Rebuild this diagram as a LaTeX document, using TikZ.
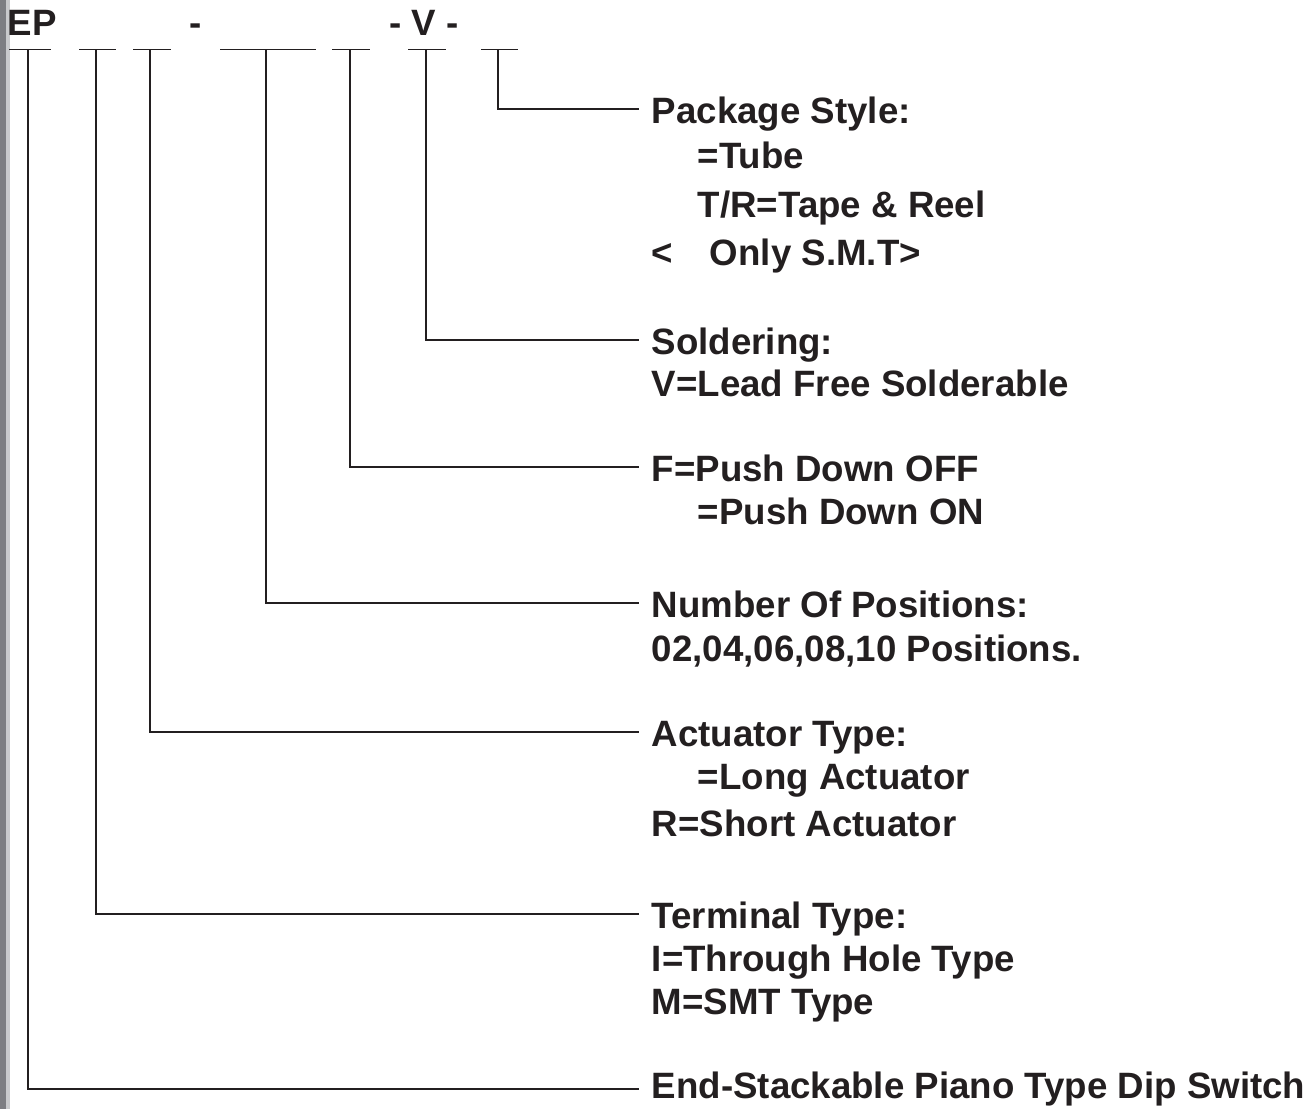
\documentclass[tikz,border=0pt]{standalone}
\usepackage{fontspec}
\setmainfont{Liberation Sans}
\usetikzlibrary{positioning}
\definecolor{ink}{HTML}{231F20}
\definecolor{bardark}{HTML}{7D7E82}
\definecolor{barlight}{HTML}{C9CACC}
\begin{document}
\begin{tikzpicture}[x=0.75pt,y=-0.75pt,line width=1.3pt,ink,
    lbl/.style={anchor=base west,inner sep=0pt,text=ink,font=\fontsize{27.5}{33}\selectfont\bfseries}]
\useasboundingbox (0,0) rectangle (1314,1109);
\fill[bardark] (0,0) rectangle (6,1109);
\fill[barlight] (6,0) rectangle (10,1109);
% part number
\node[lbl] (ep) at (7,36) {EP};
\node[lbl,anchor=base] (dash) at (196,36) {-};
\node[lbl,anchor=base] (dashv) at (424,36) {- V -};
\foreach \l/\r/\m/\n in {9/51/28/1,79/116/96/2,133/171/150/3,220/316/266/4,332/370/350/5,408/446/426/6,481/518/498/7}
  {\draw (\l,49.5) -- (\r,49.5);
   \coordinate (t\n) at (\m,49.5);}
% leaders
\foreach \n/\y in {7/109,6/340,5/467,4/603,3/732,2/914,1/1089}
  {\coordinate (e\n) at (639,\y);
   \draw (t\n) |- (e\n);}
% labels
\node[lbl] (pkg) at (651,124) {Package Style:};
\node[lbl] (tube) at (697,169) {=Tube};
\node[lbl] (reel) at (697,218) {T/R=Tape \& Reel};
\node[lbl] (smt) at (651,266) {<\hspace{1em}Only S.M.T>};
\node[lbl] (sold) at (651,354) {Soldering:};
\node[lbl] (lead) at (651,396) {V=Lead Free Solderable};
\node[lbl] (off) at (651,481) {F=Push Down OFF};
\node[lbl] (on) at (697,524) {=Push Down ON};
\node[lbl] (num) at (651,617) {Number Of Positions:};
\node[lbl] (pos) at (651,661) {02,04,06,08,10 Positions.};
\node[lbl] (act) at (651,746) {Actuator Type:};
\node[lbl] (long) at (697,789) {=Long Actuator};
\node[lbl] (short) at (651,836) {R=Short Actuator};
\node[lbl] (term) at (651,928) {Terminal Type:};
\node[lbl] (hole) at (651,971) {I=Through Hole Type};
\node[lbl] (msmt) at (651,1014) {M=SMT Type};
\node[lbl] (name) at (651,1098) {End-Stackable Piano Type Dip Switch};
\end{tikzpicture}
\end{document}
